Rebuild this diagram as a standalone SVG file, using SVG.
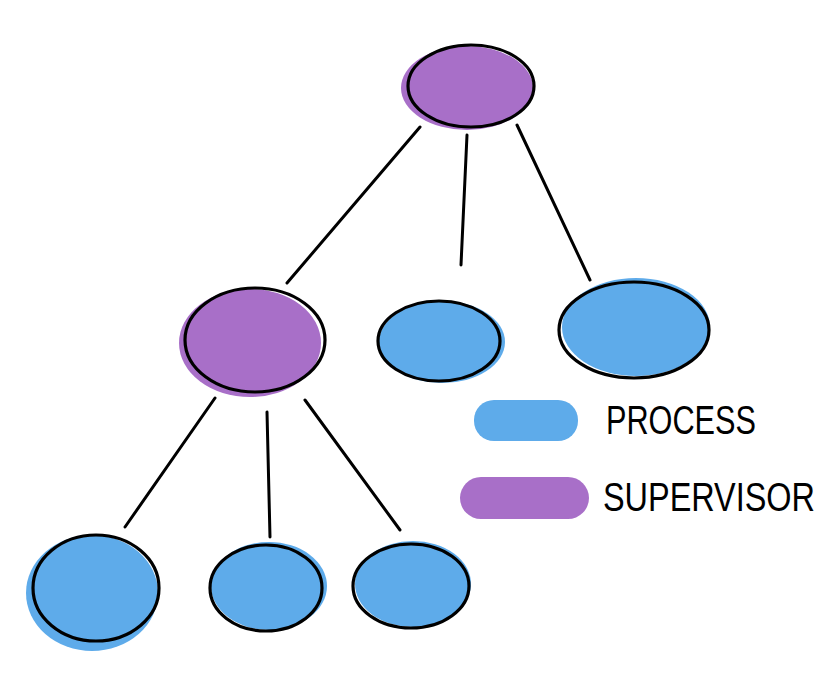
<svg xmlns="http://www.w3.org/2000/svg" width="840" height="685" viewBox="0 0 840 685">
<style>
.sup{fill:#a86fc8}
.proc{fill:#5eabea}
.outline{fill:none;stroke:#000;stroke-width:3.2;stroke-linecap:round}
.edge{stroke:#000;stroke-width:3;stroke-linecap:round;fill:none}
.lbl{font-family:"Liberation Sans",Arial,sans-serif;font-size:33px;fill:#000;font-weight:normal}
</style>
<rect width="840" height="685" fill="#fff"/>
<g id="connectors">
<line class="edge" x1="420" y1="127" x2="287" y2="283"/>
<line class="edge" x1="467" y1="135" x2="461" y2="265"/>
<line class="edge" x1="517" y1="125" x2="590" y2="280"/>
<line class="edge" x1="215" y1="398" x2="125" y2="527"/>
<line class="edge" x1="267" y1="412" x2="270" y2="537"/>
<line class="edge" x1="305" y1="400" x2="400" y2="530"/>
</g>
<g id="n-top">
<ellipse class="sup" cx="467" cy="88" rx="66" ry="42"/>
<ellipse class="outline" cx="471" cy="86" rx="63" ry="41"/>
</g>
<g id="n-mid">
<ellipse class="sup" cx="250" cy="343" rx="71" ry="54"/>
<ellipse class="outline" cx="255" cy="340" rx="70" ry="52"/>
</g>
<g id="n-p2">
<ellipse class="proc" cx="442" cy="342" rx="63" ry="41"/>
<ellipse class="outline" cx="439" cy="341" rx="61" ry="40"/>
</g>
<g id="n-p3">
<ellipse class="proc" cx="636" cy="327" rx="74" ry="49"/>
<ellipse class="outline" cx="634" cy="330" rx="75" ry="48"/>
</g>
<g id="n-b1">
<ellipse class="proc" cx="92" cy="593" rx="66" ry="58"/>
<ellipse class="outline" cx="96" cy="588" rx="63" ry="53"/>
</g>
<g id="n-b2">
<ellipse class="proc" cx="269" cy="586" rx="58" ry="44"/>
<ellipse class="outline" cx="266" cy="588" rx="56" ry="43"/>
</g>
<g id="n-b3">
<ellipse class="proc" cx="413" cy="584" rx="58" ry="43"/>
<ellipse class="outline" cx="411" cy="586" rx="58" ry="42"/>
</g>
<g id="legend">
<rect class="proc" x="474" y="400" width="104" height="41" rx="20"/>
<rect class="sup" x="460" y="477" width="129" height="42" rx="21"/>
<text class="lbl" transform="translate(606,434) scale(1,1.25)" x="0" y="0" textLength="150" lengthAdjust="spacingAndGlyphs">PROCESS</text>
<text class="lbl" transform="translate(603,511) scale(1,1.25)" x="0" y="0" textLength="212" lengthAdjust="spacingAndGlyphs">SUPERVISOR</text>
</g>
</svg>
